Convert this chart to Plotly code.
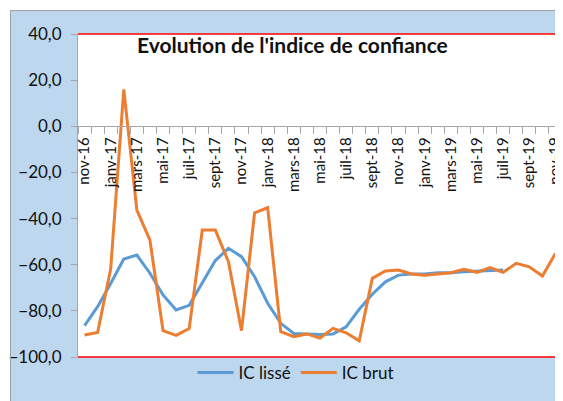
import plotly.graph_objects as go

months = ["nov-16", "déc-16",
          "janv-17", "févr-17", "mars-17", "avr-17", "mai-17", "juin-17",
          "juil-17", "août-17", "sept-17", "oct-17", "nov-17", "déc-17",
          "janv-18", "févr-18", "mars-18", "avr-18", "mai-18", "juin-18",
          "juil-18", "août-18", "sept-18", "oct-18", "nov-18", "déc-18",
          "janv-19", "févr-19", "mars-19", "avr-19", "mai-19", "juin-19",
          "juil-19", "août-19", "sept-19", "oct-19", "nov-19"]

ic_lisse = [-86.4, -78.2, -68.1, -57.5, -55.8, -63.7, -73.1, -79.6, -77.6,
            -68.0, -58.2, -52.9, -56.5, -65.2, -76.7, -85.4, -89.8, -90.0,
            -90.3, -90.0, -86.9, -79.3, -72.8, -67.4, -64.5, -64.0, -64.0,
            -63.5, -63.5, -63.0, -62.7, -62.3, -62.3,
            None, None, None, None]

ic_brut = [-90.5, -89.4, -61.8, 16.0, -36.3, -49.4, -88.6, -90.6, -87.7,
           -45.0, -45.0, -58.7, -88.6, -37.5, -35.3, -89.0, -91.2, -90.0,
           -91.8, -87.6, -89.5, -93.0, -65.9, -62.7, -62.3, -64.0, -64.6,
           -64.1, -63.5, -62.0, -63.3, -61.3, -63.3, -59.4, -60.9, -64.9,
           -55.1]

tick_labels = [m if i % 2 == 0 else "" for i, m in enumerate(months)]

y_ticks = [40, 20, 0, -20, -40, -60, -80, -100]

FONT = "Lato"
BLUE_BG = "#BDD7EE"

fig = go.Figure()
fig.add_trace(go.Scatter(x=months, y=ic_lisse, name="IC lissé", mode="lines",
                         line=dict(color="#5B9BD5", width=3), connectgaps=False))
fig.add_trace(go.Scatter(x=months, y=ic_brut, name="IC brut", mode="lines",
                         line=dict(color="#ED7D31", width=3)))

# page has an 8px body margin; work in screenshot pixels and subtract it
OFF = 8
SW, SH = 563, 401            # screenshot size
L, R, T, B = 78, 562, 34, 357  # plot area in screenshot px
W, H = SW - OFF, SH - OFF
pw, ph = R - L, B - T


def px_x(p):
    return (p - L) / pw


def px_y(p):
    return (B - p) / ph


zero_pos = (B - (T + 40 * ph / 140)) / ph

fig.update_layout(
    width=W, height=H,
    margin=dict(l=L - OFF, r=SW - R, t=T - OFF, b=SH - B, autoexpand=False),
    paper_bgcolor=BLUE_BG,
    plot_bgcolor="white",
    separators=", ",
    font=dict(family=FONT, color="#111111"),
    showlegend=True,
    legend=dict(orientation="h", x=px_x(296), xanchor="center",
                y=px_y(373), yanchor="middle", itemwidth=36,
                bgcolor="rgba(0,0,0,0)", font=dict(size=17, family=FONT)),
    xaxis=dict(type="category", categoryorder="array", categoryarray=months,
               range=[-0.5, len(months) - 0.5], automargin=False,
               anchor="free", position=zero_pos,
               tickmode="array", tickvals=months, ticktext=tick_labels,
               tickson="boundaries", ticks="outside", ticklen=7,
               tickcolor="#A6A6A6", showline=True, linecolor="#A6A6A6",
               linewidth=1, showgrid=False, zeroline=False,
               ticklabelstandoff=4,
               tickangle=-90, tickfont=dict(size=15, family=FONT, color="#111111")),
    yaxis=dict(range=[-100, 40], tickmode="array", tickvals=y_ticks,
               automargin=False, ticklabelstandoff=6,
               tickformat=".1f", ticks="outside", ticklen=6,
               tickcolor="#A6A6A6", showline=True, linecolor="#A6A6A6",
               showgrid=False, zeroline=False,
               tickfont=dict(size=17, family=FONT, color="#111111")),
)

shapes = []
# gray frame lines of the outer chart area (white page strip lies outside)
shapes.append(dict(type="rect", xref="paper", yref="paper",
                   x0=px_x(0), x1=px_x(SW + 5), y0=px_y(10), y1=px_y(0),
                   fillcolor="white", line=dict(width=0), layer="below"))
shapes.append(dict(type="rect", xref="paper", yref="paper",
                   x0=px_x(0), x1=px_x(10), y0=px_y(SH + 5), y1=px_y(0),
                   fillcolor="white", line=dict(width=0), layer="below"))
shapes.append(dict(type="line", xref="paper", yref="paper",
                   x0=px_x(10.5), x1=px_x(SW + 5), y0=px_y(10.5), y1=px_y(10.5),
                   line=dict(color="#A0A0A0", width=1)))
shapes.append(dict(type="line", xref="paper", yref="paper",
                   x0=px_x(10.5), x1=px_x(10.5), y0=px_y(10.5), y1=px_y(SH + 5),
                   line=dict(color="#A0A0A0", width=1)))
# red plot-area border (top, right, bottom)
shapes.append(dict(type="line", xref="paper", yref="paper",
                   x0=0, x1=1, y0=1, y1=1, line=dict(color="#FF0000", width=1.5)))
shapes.append(dict(type="line", xref="paper", yref="paper",
                   x0=1, x1=1, y0=0, y1=1, line=dict(color="#F06060", width=1.5)))
shapes.append(dict(type="line", xref="paper", yref="paper",
                   x0=0, x1=1, y0=0, y1=0, line=dict(color="#FF0000", width=1.5)))
fig.update_layout(shapes=shapes)

fig.add_annotation(text="<b>Evolution de l'indice de confiance</b>",
                   xref="paper", yref="paper", x=px_x(292), y=px_y(45),
                   xanchor="center", yanchor="middle", showarrow=False,
                   font=dict(size=21, family=FONT, color="#111111"))

fig.write_html("out.html")
